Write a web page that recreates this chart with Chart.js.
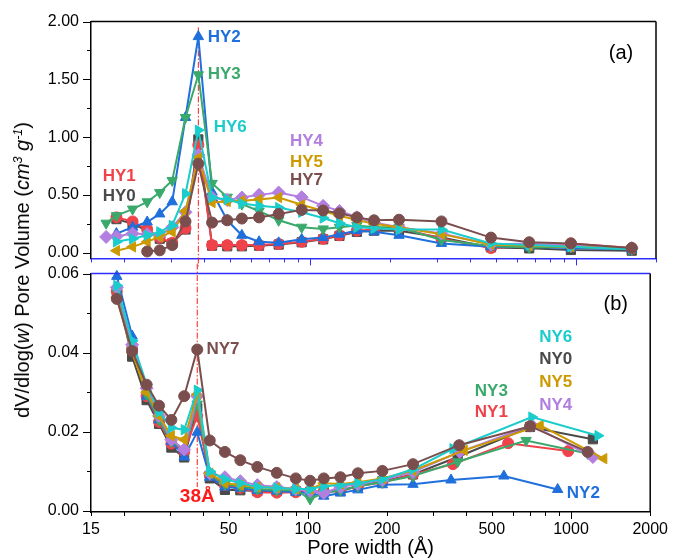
<!DOCTYPE html>
<html>
<head>
<meta charset="utf-8">
<script src="https://cdn.jsdelivr.net/npm/chart.js@4.4.1/dist/chart.umd.min.js"></script>
<style>
    html, body { margin: 0; padding: 0; background: #fff; }
    #wrap { position: relative; width: 676px; height: 558px; overflow: hidden;
            font-family: 'Liberation Sans', Arial, sans-serif; }
    #wrap canvas { position: absolute; left: 0; }
    #topChart { top: 0; }
    #bottomChart { top: 252px; }
    #yTitle { position: absolute; left: 22px; top: 270px; white-space: nowrap;
              transform: translate(-50%, -50%) rotate(-90deg);
              font-size: 20px; color: #000; line-height: 1; }
    #yTitle sup { font-size: 0.62em; vertical-align: 0.55em; line-height: 0; }
</style>
</head>
<body>
<div id="wrap">
    <canvas id="bottomChart" width="676" height="306"></canvas>
    <canvas id="topChart" width="676" height="280"></canvas>
    <div id="yTitle">dV/dlog(<i>w</i>) Pore Volume (<i>cm<sup>3</sup> g<sup>-1</sup></i>)</div>
</div>
<script>
// Global Chart.js setup
Chart.defaults.font.family = "'Liberation Sans', Arial, sans-serif";
Chart.defaults.color = '#000';

// ---- Data: panel (a), HY samples -------------------------------------
const hyPore = [17.1, 18.7, 21.5, 24.4, 27.2, 30.3, 34, 38, 42.8, 48.8, 55.4, 64.3,
                76.2, 93, 112, 129, 150, 174, 216, 312, 479, 667, 957, 1621];
const hy0 = [null, 0.29, 0.25, 0.19, 0.12, 0.08, 0.2, 0.98, 0.06, 0.055, 0.055, 0.06,
             0.07, 0.09, 0.115, 0.145, 0.18, 0.19, 0.19, 0.13, 0.045, 0.037, 0.023, 0.017];
const hy1 = [null, 0.305, 0.27, 0.2, 0.13, 0.085, 0.21, 0.93, 0.065, 0.065, 0.065, 0.065,
             0.075, 0.094, 0.12, 0.15, 0.19, 0.2, 0.215, 0.12, 0.04, null, 0.08, 0.04];
const hy2 = [null, 0.165, 0.22, 0.265, 0.335, 0.44, 1.17, 1.87, 0.525, 0.28, 0.15, 0.094,
             0.085, 0.115, 0.13, 0.16, 0.19, 0.18, 0.15, 0.08, 0.05, 0.05, 0.04, 0.03];
const hy3 = [0.255, 0.32, 0.377, 0.44, 0.52, 0.625, 1.17, 1.54, 0.6, 0.48, 0.42, 0.36,
             0.28, 0.22, 0.205, 0.22, 0.235, 0.22, 0.22, 0.11, 0.057, 0.045, 0.05, 0.03];
const hy4 = [0.136, 0.14, 0.165, 0.16, 0.15, 0.22, 0.35, 0.845, 0.477, 0.455, 0.477, 0.5,
             0.52, 0.48, 0.405, 0.36, 0.306, 0.26, 0.22, 0.165, 0.07, 0.08, 0.06, 0.04];
const hy5 = [null, 0.017, 0.05, 0.094, 0.136, 0.18, 0.36, 0.82, 0.434, 0.443, 0.45, 0.46,
             0.477, 0.414, 0.36, 0.32, 0.283, 0.25, 0.22, 0.16, 0.07, 0.06, 0.05, 0.035];
const hy6 = [null, 0.094, 0.12, 0.15, 0.18, 0.235, 0.51, 1.06, 0.477, 0.46, 0.425, 0.405,
             0.39, 0.35, 0.3, 0.255, 0.22, 0.21, 0.2, 0.2, 0.08, 0.065, 0.05, 0.03];
const hy7 = [null, null, null, 0.01, 0.02, 0.065, 0.27, 0.77, 0.26, 0.28, 0.295, 0.305,
             0.335, 0.37, 0.365, 0.34, 0.305, 0.28, 0.285, 0.27, 0.13, 0.09, 0.08, 0.04];

// ---- Data: panel (b), NY samples -------------------------------------
const nyPore = [18.8, 21.5, 24.4, 27.2, 30.3, 33.9, 38, 42.4, 48.4, 55.4, 64.3, 76.2,
                90, 102, 115, 133, 155, 192, 251];
const ny0Pore = [...nyPore, 371, 699, 1211];
const ny1Pore = [...nyPore, 356, 577, 976];
const ny2Pore = [...nyPore, 350, 556, 890];
const ny3Pore = [...nyPore, 371, 675, 1157];
const ny4Pore = [...nyPore, 378, 710, 1211];
const ny5Pore = [...nyPore, 393, 764, 1333];
const ny6Pore = [...nyPore, 356, 710, 1267];
const ny7Pore = [...nyPore, 376, 699, 1157];
const ny0 = [0.055, 0.039, 0.028, 0.022, 0.016, 0.0135, 0.026, 0.0082, 0.0053, 0.0052, 0.005,
             0.005, 0.005, 0.0048, 0.0048, 0.005, 0.0062, 0.0075, 0.0092, 0.0136, 0.0212, 0.0181];
const ny1 = [0.0555, 0.041, 0.029, 0.0225, 0.017, 0.015, 0.024, 0.009, 0.0065, 0.0058, 0.0047,
             0.0046, 0.0047, 0.005, 0.0048, 0.0052, 0.0062, 0.0072, 0.0092, 0.0118, 0.0171, 0.0151];
const ny2 = [0.0593, 0.0442, 0.029, 0.023, 0.0175, 0.0136, 0.0199, 0.0085, 0.006, 0.0057, 0.0052,
             0.005, 0.0047, 0.0045, 0.0037, 0.0045, 0.0053, 0.0066, 0.0067, 0.0078, 0.0088, 0.0054];
const ny3 = [0.0555, 0.0405, 0.0295, 0.023, 0.0175, 0.0155, 0.027, 0.0092, 0.0068, 0.0062, 0.0055,
             0.0052, 0.0052, 0.003, 0.0045, 0.0052, 0.0062, 0.0072, 0.0088, 0.0124, 0.0178, 0.0145];
const ny4 = [0.0565, 0.042, 0.031, 0.024, 0.018, 0.0155, 0.029, 0.0095, 0.0085, 0.0075, 0.0065,
             0.006, 0.0055, 0.005, 0.0045, 0.006, 0.0068, 0.0078, 0.0098, 0.0149, 0.0216, 0.0136];
const ny5 = [0.054, 0.04, 0.03, 0.024, 0.019, 0.018, 0.0295, 0.0095, 0.007, 0.0065, 0.006,
             0.0058, 0.0055, 0.0055, 0.007, 0.0068, 0.0072, 0.0082, 0.0102, 0.0153, 0.0216, 0.0132];
const ny6 = [0.057, 0.043, 0.032, 0.025, 0.021, 0.0205, 0.0305, 0.01, 0.008, 0.007, 0.006,
             0.0058, 0.0055, 0.0055, 0.0062, 0.0065, 0.007, 0.008, 0.0105, 0.0157, 0.0237, 0.019];
const ny7 = [0.0536, 0.0404, 0.0319, 0.0266, 0.023, 0.029, 0.0408, 0.0178, 0.0149, 0.0128, 0.0111,
             0.0096, 0.0082, 0.0076, 0.0082, 0.0085, 0.0095, 0.0101, 0.0118, 0.0166, 0.0214, 0.0149];

// Axis ticks
const X_TICKS = [15, 20, 30, 40, 50, 60, 70, 80, 90, 100, 200, 300, 400, 500, 600, 700, 800, 900, 1000, 2000];
const X_LABELS = [15, 50, 100, 200, 500, 1000, 2000];
const TOP_Y_TICKS = [0, 0.25, 0.5, 0.75, 1, 1.25, 1.5, 1.75, 2];
const BOTTOM_Y_TICKS = [0, 0.01, 0.02, 0.03, 0.04, 0.05, 0.06];
const MARK_PORE = 38;

// Series styles (index 0..7 = sample 0..7)
const SERIES_COLORS = ['#4a4a4a', '#f0424a', '#1f6fdc', '#3aa96b', '#b27fe0', '#cc9a00', '#1bcccc', '#7b4e4e'];
const POINT_STYLES = ['rect', 'circle', 'triangle', 'triangle', 'rectRot', 'triangle', 'triangle', 'circle'];
const POINT_ROTATIONS = [0, 0, 0, 180, 0, -90, 90, 0];
const POINT_SIZES = [6.5, 5.5, 6, 6, 6.5, 6, 6, 5.5];
const AXIS_BLUE = '#2e2eff';

// Text labels placed in data coordinates
const topNotes = [
    { text: 'HY2', k: 2, x: 41.2, y: 1.864 },
    { text: 'HY3', k: 3, x: 41.2, y: 1.54 },
    { text: 'HY6', k: 6, x: 43.4, y: 1.089 },
    { text: 'HY4', k: 4, x: 84, y: 0.962 },
    { text: 'HY5', k: 5, x: 84, y: 0.783 },
    { text: 'HY7', k: 7, x: 84, y: 0.63 },
    { text: 'HY1', k: 1, x: 16.6, y: 0.664 },
    { text: 'HY0', k: 0, x: 16.6, y: 0.485 }
];
const bottomNotes = [
    { text: 'NY7', k: 7, x: 41.2, y: 0.0409 },
    { text: 'NY6', k: 6, x: 757, y: 0.0439 },
    { text: 'NY0', k: 0, x: 757, y: 0.0384 },
    { text: 'NY5', k: 5, x: 757, y: 0.0324 },
    { text: 'NY4', k: 4, x: 757, y: 0.0266 },
    { text: 'NY3', k: 3, x: 431, y: 0.0301 },
    { text: 'NY1', k: 1, x: 431, y: 0.0249 },
    { text: 'NY2', k: 2, x: 964, y: 0.0045 }
];

/**
 * Builds the eight line datasets of one panel
 */
function buildDatasets(poreLists, volLists) {
    return volLists.map((vols, k) => ({
        data: poreLists[k].map((p, i) => ({ x: p, y: vols[i] })).filter(d => d.y !== null),
        borderColor: SERIES_COLORS[k],
        backgroundColor: SERIES_COLORS[k],
        borderWidth: 2,
        pointStyle: POINT_STYLES[k],
        rotation: POINT_ROTATIONS[k],
        pointRadius: POINT_SIZES[k],
        pointBorderWidth: 1,
        tension: 0,
        order: 7 - k,
        clip: 8
    }));
}

// Draws tick marks (long for labelled / decades, short otherwise) and the top/right frame
const framePlugin = {
    id: 'frame',
    afterDraw(chart, args, opts) {
        const { ctx, chartArea: a, scales: { x, y } } = chart;
        ctx.save();
        ctx.lineWidth = 1;
        ctx.strokeStyle = '#000';
        y.ticks.forEach(t => {
            const py = Math.round(y.getPixelForValue(t.value)) + 0.5;
            const len = t.label ? 8 : 4;
            ctx.beginPath();
            ctx.moveTo(a.left - len, py);
            ctx.lineTo(a.left, py);
            ctx.stroke();
        });
        ctx.strokeStyle = opts.xColor;
        x.ticks.forEach(t => {
            const px = Math.round(x.getPixelForValue(t.value)) + 0.5;
            const len = (t.value === 100 || t.value === 1000) ? 7 : 4;
            ctx.beginPath();
            ctx.moveTo(px, a.bottom);
            ctx.lineTo(px, a.bottom + len);
            ctx.stroke();
        });
        ctx.lineWidth = 1.5;
        ctx.strokeStyle = opts.topColor;
        ctx.beginPath();
        ctx.moveTo(a.left, a.top);
        ctx.lineTo(a.right, a.top);
        ctx.stroke();
        ctx.strokeStyle = '#000';
        ctx.beginPath();
        ctx.moveTo(a.right, a.top);
        ctx.lineTo(a.right, a.bottom);
        ctx.stroke();
        ctx.restore();
    }
};

// Red dash-dot line at 38 Å
const markLinePlugin = {
    id: 'markLine',
    beforeDatasetsDraw(chart, args, opts) {
        const { ctx, chartArea: a, scales: { x, y } } = chart;
        const px = x.getPixelForValue(MARK_PORE);
        const y0 = opts.fromValue !== undefined ? y.getPixelForValue(opts.fromValue) : a.top - 10;
        const y1 = opts.toValue !== undefined ? y.getPixelForValue(opts.toValue) : a.bottom + 8;
        ctx.save();
        ctx.strokeStyle = '#ff1a1a';
        ctx.lineWidth = 1;
        ctx.setLineDash([6, 2, 1.5, 2]);
        ctx.beginPath();
        ctx.moveTo(px, y0);
        ctx.lineTo(px, y1);
        ctx.stroke();
        ctx.restore();
    }
};

// Sample names and panel tags
const notesPlugin = {
    id: 'notes',
    afterDatasetsDraw(chart, args, opts) {
        const { ctx, scales: { x, y } } = chart;
        ctx.save();
        ctx.textBaseline = 'middle';
        opts.items.forEach(n => {
            ctx.font = n.font || "bold 17px 'Liberation Sans', Arial, sans-serif";
            ctx.fillStyle = n.color || SERIES_COLORS[n.k];
            ctx.textAlign = n.align || 'left';
            ctx.fillText(n.text, x.getPixelForValue(n.x), y.getPixelForValue(n.y));
        });
        ctx.restore();
    }
};

function xScale(showLabels, borderColor, height) {
    return {
        type: 'logarithmic',
        min: 15,
        max: 2000,
        afterBuildTicks: s => { s.ticks = X_TICKS.map(v => ({ value: v })); },
        afterFit: s => { s.height = height; },
        grid: { display: false, drawTicks: false },
        border: { display: true, color: borderColor, width: 1.5 },
        ticks: {
            display: showLabels,
            autoSkip: false,
            maxRotation: 0,
            padding: 8,
            font: { size: 16 },
            color: '#000',
            callback: v => X_LABELS.includes(v) ? String(v) : ''
        },
        title: {
            display: showLabels,
            text: 'Pore width (Å)',
            font: { size: 20, lineHeight: 1 },
            padding: 0,
            color: '#000'
        }
    };
}

function yScale(min, max, tickList, digits) {
    return {
        min: min,
        max: max,
        afterBuildTicks: s => { s.ticks = tickList.map(v => ({ value: v })); },
        afterFit: s => { s.width = 91; },
        grid: { display: false, drawTicks: false },
        border: { display: true, color: '#000', width: 1.5 },
        ticks: {
            autoSkip: false,
            padding: 12,
            font: { size: 16 },
            color: '#000',
            callback: (v, i) => i % 2 === 0 ? v.toFixed(digits) : ''
        }
    };
}

function baseOptions() {
    return {
        responsive: false,
        animation: false,
        devicePixelRatio: 1,
        events: [],
        plugins: { legend: { display: false }, tooltip: { enabled: false } }
    };
}

function createTopChart() {
    const opts = baseOptions();
    opts.layout = { padding: { top: 21, right: 20, left: 0, bottom: 0 } };
    opts.scales = { x: xScale(false, AXIS_BLUE, 18), y: yScale(-0.05, 2, TOP_Y_TICKS, 2) };
    opts.plugins.frame = { xColor: AXIS_BLUE, topColor: '#000' };
    opts.plugins.markLine = { fromValue: 1.95 };
    opts.plugins.notes = {
        items: [...topNotes,
            { text: '(a)', x: 1329, y: 1.728, color: '#000', font: "20px 'Liberation Sans', Arial, sans-serif" }]
    };
    return new Chart(document.getElementById('topChart'), {
        type: 'line',
        data: {
            datasets: buildDatasets(
                [hyPore, hyPore, hyPore, hyPore, hyPore, hyPore, hyPore, hyPore],
                [hy0, hy1, hy2, hy3, hy4, hy5, hy6, hy7])
        },
        options: opts,
        plugins: [markLinePlugin, notesPlugin, framePlugin]
    });
}

function createBottomChart() {
    const opts = baseOptions();
    opts.layout = { padding: { top: 20, right: 20, left: 0, bottom: 0 } };
    opts.scales = { x: xScale(true, '#000', 46), y: yScale(-0.0003, 0.06, BOTTOM_Y_TICKS, 2) };
    opts.plugins.frame = { xColor: '#000', topColor: AXIS_BLUE };
    opts.plugins.markLine = { toValue: 0.006 };
    opts.plugins.notes = {
        items: [...bottomNotes,
            { text: '(b)', x: 1329, y: 0.0522, color: '#000', font: "20px 'Liberation Sans', Arial, sans-serif" },
            { text: '38Å', x: MARK_PORE, y: 0.0035, color: '#ff1a1a', align: 'center',
              font: "bold 19px 'Liberation Sans', Arial, sans-serif" }]
    };
    return new Chart(document.getElementById('bottomChart'), {
        type: 'line',
        data: {
            datasets: buildDatasets(
                [ny0Pore, ny1Pore, ny2Pore, ny3Pore, ny4Pore, ny5Pore, ny6Pore, ny7Pore],
                [ny0, ny1, ny2, ny3, ny4, ny5, ny6, ny7])
        },
        options: opts,
        plugins: [markLinePlugin, notesPlugin, framePlugin]
    });
}

createBottomChart();
createTopChart();
</script>
</body>
</html>
